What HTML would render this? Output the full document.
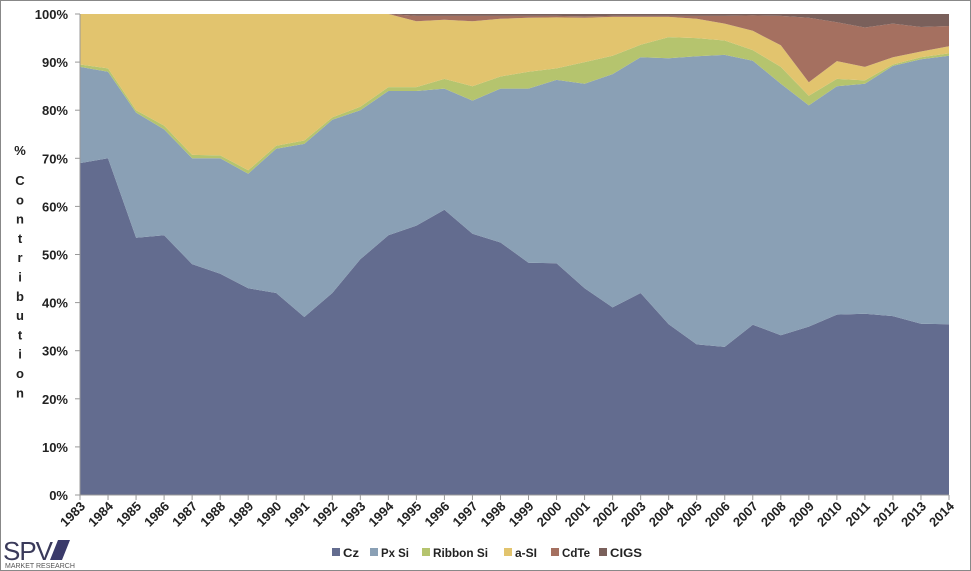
<!DOCTYPE html>
<html><head><meta charset="utf-8"><style>
body{margin:0;background:#fff}
svg{display:block;font-family:"Liberation Sans",sans-serif}
</style></head><body>
<svg id="s" width="971" height="571" xmlns="http://www.w3.org/2000/svg">
<rect x="0.5" y="0.5" width="970" height="570" fill="#fff" stroke="#888"/>
</svg>
<script>
(function(){
const s=document.getElementById('s');
const NS='http://www.w3.org/2000/svg';
function el(t,a,txt){const e=document.createElementNS(NS,t);for(const k in a)e.setAttribute(k,a[k]);if(txt!=null)e.textContent=txt;s.appendChild(e);return e;}
const x0=80,dx=(949-80)/31,y0=495,k=4.81;
const cz=[69,70,53.5,54,48,46,43,42,37,42,49,54,56,59.3,54.3,52.5,48.3,48.2,43,39,42,35.5,31.3,30.8,35.4,33.2,35,37.5,37.7,37.2,35.6,35.5];
const px=[89,88,79.5,76,70,70,66.8,72,73,78,80,84,84,84.5,82,84.5,84.5,86.3,85.5,87.5,91,90.8,91.2,91.5,90.3,85.5,81,85,85.5,89.2,90.6,91.3];
const rb=[89.5,88.7,80,76.8,70.7,70.6,67.5,72.6,73.7,78.5,80.7,84.8,84.8,86.5,85,87,88,88.7,90,91.3,93.6,95.2,95,94.5,92.5,89,83,86.5,86.2,89.5,91,91.8];
const as=[100,100,100,100,100,100,100,100,100,100,100,100,98.5,98.8,98.5,99,99.2,99.3,99.2,99.4,99.4,99.4,99,98,96.5,93.5,85.8,90.2,89,91,92.2,93.3];
const cd=[100,100,100,100,100,100,100,100,100,100,100,100,99.6,99.6,99.6,99.6,99.6,99.6,99.5,99.6,99.6,99.6,99.6,99.6,99.7,99.6,99.2,98.3,97.2,98,97.3,97.5];
const full=cz.map(()=>100);
const zero=cz.map(()=>0);
function area(lo,hi,c){let p=[];hi.forEach((v,i)=>p.push((x0+i*dx).toFixed(1)+','+(y0-k*v).toFixed(1)));for(let i=lo.length-1;i>=0;i--)p.push((x0+i*dx).toFixed(1)+','+(y0-k*lo[i]).toFixed(1));el('polygon',{points:p.join(' '),fill:c});}
area(zero,cz,'#636c8f');area(cz,px,'#8aa0b5');area(px,rb,'#b5c46e');area(rb,as,'#e2c46e');area(as,cd,'#a57060');area(cd,full,'#7a605b');
el('line',{x1:x0,y1:14,x2:x0,y2:y0,stroke:'#999'});
el('line',{x1:x0,y1:y0,x2:949,y2:y0,stroke:'#999'});
for(let i=0;i<=10;i++){const y=y0-k*i*10;el('line',{x1:75,y1:y,x2:x0,y2:y,stroke:'#999'});el('text',{x:68,y:y+5,'text-anchor':'end','font-size':13,'font-weight':'bold',fill:'#222'},i*10+'%');}
for(let i=0;i<32;i++){const x=x0+i*dx;el('line',{x1:x,y1:y0,x2:x,y2:y0+5,stroke:'#999'});el('text',{x:x+6,y:y0+12,'text-anchor':'end','font-size':13,'font-weight':'bold',fill:'#222',transform:'rotate(-45 '+(x+6)+' '+(y0+12)+')'},String(1983+i));}
el('text',{x:20,y:155,'text-anchor':'middle','font-size':13,'font-weight':'bold',fill:'#222'},'%');
'Contribution'.split('').forEach((c,i)=>el('text',{x:20,y:185+i*19.3,'text-anchor':'middle','font-size':13,'font-weight':'bold',fill:'#222'},c));
const lg=[['Cz',332,'#636c8f',16],['Px Si',370,'#8aa0b5',28],['Ribbon Si',422,'#b5c46e',55],['a-SI',504,'#e2c46e',22],['CdTe',551,'#a57060',28],['CIGS',599,'#7a605b',32]];
lg.forEach(function(d){el('rect',{x:d[1],y:548,width:8,height:8,fill:d[2]});el('text',{x:d[1]+11,y:557,'font-size':12,'font-weight':'bold',fill:'#222',textLength:d[3],lengthAdjust:'spacingAndGlyphs'},d[0]);});
el('text',{x:3,y:560,'font-size':26,fill:'#3a3a5a','letter-spacing':'-1'},'SPV');
el('polygon',{points:'50,560 58,540 70,540 62,560',fill:'#3a3a6a'});
el('text',{x:5,y:568,'font-size':7,fill:'#555'},'MARKET RESEARCH');
})();
</script>
</body></html>
